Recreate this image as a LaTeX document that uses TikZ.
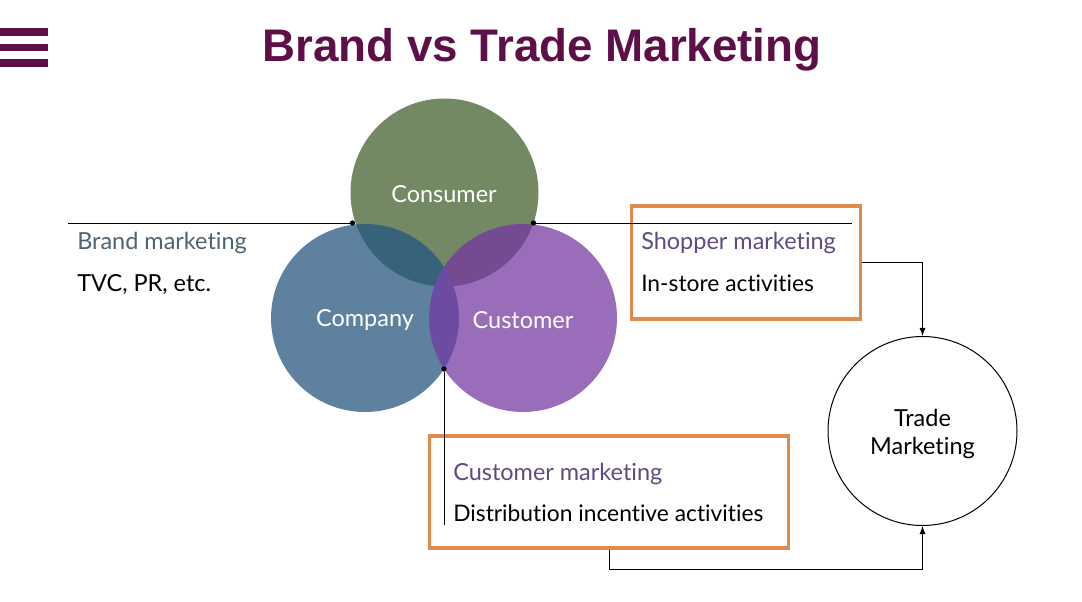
\documentclass[tikz,border=0pt]{standalone}
\usepackage{fontspec}
\setmainfont{Lato}[Ligatures=NoCommon]
\newfontfamily\titlefont{Liberation Sans}
\usetikzlibrary{arrows.meta}

\definecolor{plum}{HTML}{5E0F47}
\definecolor{consumerc}{HTML}{728963}
\definecolor{companyc}{HTML}{5F81A0}
\definecolor{customerc}{HTML}{9A6DBB}
\definecolor{concom}{HTML}{37637A}
\definecolor{concus}{HTML}{744A91}
\definecolor{comcus}{HTML}{6C4CA3}
\definecolor{boxc}{HTML}{E08B4C}
\definecolor{brandc}{HTML}{4F6373}
\definecolor{tradec}{HTML}{5F4B80}

\begin{document}
\begin{tikzpicture}[
        x=.75pt, y=-.75pt,
        >={Latex[length=6pt,width=4.5pt]},
        font=\fontsize{17.6}{21}\selectfont,
        % Styles
        venn/.style={% For the three big circles
            circle,
            minimum size=141pt,
            inner sep=0pt,
            text=white,
            },
        tradecircle/.style={% For the circle on the right
            circle,
            draw,
            line width=.75pt,
            minimum size=141.75pt,
            inner sep=0pt,
            align=center,
            },
        obox/.style={% For the orange boxes
            rectangle,
            draw=boxc,
            line width=2.5pt,
            },
        dot/.style={% For the line ends
            circle,
            fill=black,
            inner sep=0pt,
            minimum size=4pt,
            },
        bar/.style={% For the menu icon
            rectangle,
            fill=plum,
            inner sep=0pt,
            minimum width=36pt,
            minimum height=5.6pt,
            },
        mylabel/.style={% Texts beside the lines
            anchor=base west,
            inner sep=0pt,
            },
        narrow/.style={% The two lines ending in activities
            font=\fontsize{17.1}{21}\selectfont,
            },
        ArrowC1/.style={% Thin connectors
            line width=.7pt,
            },
        ]

    % Nodes
        % Draw the menu icon
        \node [bar] (bar1) at (24,32) {};
        \node [bar] (bar2) at (24,47.5) {};
        \node [bar] (bar3) at (24,63) {};

        % Draw the title
        \node [inner sep=0pt, text=plum] (title) at (542,50) {\titlefont\bfseries\fontsize{34.3}{40}\selectfont Brand vs Trade Marketing};

        % Draw the circles
        \node [venn, fill=consumerc] (consumer) at (444.5,192.5) {};
        \node [venn, fill=companyc] (company) at (365,318) {};
        \node [venn, fill=customerc] (customer) at (523,318) {};

        % Draw the overlaps
        \begin{scope}
            \clip (444.5,192.5) circle (94);
            \fill [concom] (365,318) circle (94);
            \fill [concus] (523,318) circle (94);
        \end{scope}
        \begin{scope}
            \clip (365,318) circle (94);
            \fill [comcus] (523,318) circle (94);
        \end{scope}

        \node [text=white] (consumerl) at (444,194) {Consumer};
        \node [text=white] (companyl) at (365,320) {Company};
        \node [text=white] (customerl) at (523,320) {Customer};

        % Draw the orange boxes
        \node [obox, minimum width=172pt, minimum height=84.75pt] (shopper) at (746,262.5) {};
        \node [obox, minimum width=269.5pt, minimum height=84pt] (custbox) at (609,492) {};

        % Draw the trade circle
        \node [tradecircle] (trade) at (922.5,431) {\rule{0pt}{0pt}\\[-3pt]Trade\\Marketing};

        % Draw the dots and free ends
        \node [dot] (dot1) at (352.5,223) {};
        \node [dot] (dot2) at (533.5,223) {};
        \node [dot] (dot3) at (444,369) {};
        \coordinate (leftend) at (68,223);
        \coordinate (rightend) at (852,223);
        \coordinate (lowend) at (444,525);
        \coordinate (turn) at (922.5,569);

        % Draw the texts
        \node [mylabel, text=brandc] (brand) at (77,250) {Brand marketing};
        \node [mylabel] (tvc) at (77,292) {TVC, PR, etc.};
        \node [mylabel, text=tradec] (shopperl) at (641,250) {Shopper marketing};
        \node [mylabel, narrow] (instore) at (641,292) {In-store activities};
        \node [mylabel, text=tradec] (custl) at (453,480) {Customer marketing};
        \node [mylabel, narrow] (distl) at (453,521) {Distribution incentive activities};

    % Start connecting all.
        \draw [ArrowC1] (leftend) -- (dot1);
        \draw [ArrowC1] (dot2) -- (rightend);
        \draw [ArrowC1] (dot3) -- (lowend);
        \draw [->, ArrowC1] (shopper.east) -| (trade.north);
        \draw [->, ArrowC1] (custbox.south) |- (turn) -- (trade.south);

    \useasboundingbox (0,0) rectangle (1082,602);
\end{tikzpicture}
\end{document}
